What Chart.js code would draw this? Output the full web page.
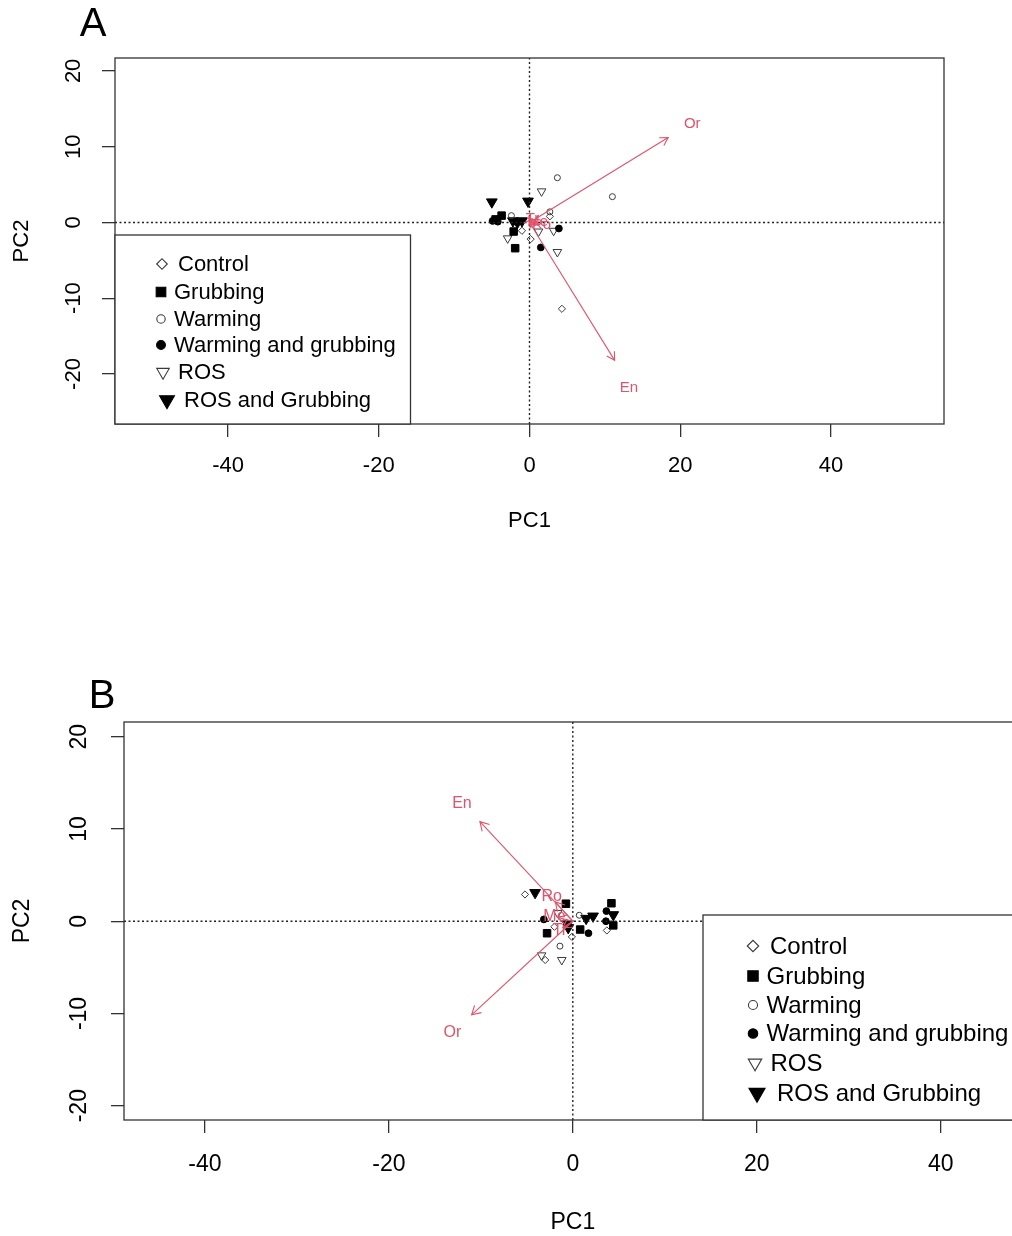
<!DOCTYPE html>
<html>
<head>
<meta charset="utf-8">
<script src="https://cdn.jsdelivr.net/npm/chart.js@4.4.1/dist/chart.umd.min.js"></script>
<style>
  body { margin: 0; background: #fff; width: 1012px; height: 1236px; overflow: hidden; position: relative; }
  .panel { position: absolute; left: 0; overflow: hidden; }
  canvas { display: block; }
</style>
</head>
<body>
<div class="panel" style="top:0;width:1012px;height:560px"><canvas id="chartA" width="1012" height="560"></canvas></div>
<div class="panel" style="top:640px;width:1012px;height:596px"><canvas id="chartB" width="1040" height="596"></canvas></div>
<script>
const groups = ["Control", "Grubbing", "Warming", "Warming and grubbing", "ROS", "ROS and Grubbing"];
const xTicks = [-40, -20, 0, 20, 40];
const yTicks = [-20, -10, 0, 10, 20];

// panel A: sample scores [PC1, PC2]
const controlA = [[-1.0, -1.1], [0.15, -2.2], [2.7, 0.8], [4.3, -11.4]];
const grubbingA = [[-4.5, 0.4], [-3.7, 0.9], [-2.1, -1.2], [-1.9, -3.4]];
const warmingA = [[3.7, 5.9], [11.0, 3.4], [2.7, 1.4], [-2.4, 0.9]];
const warmGrubA = [[-4.9, 0.2], [-4.2, 0.1], [3.9, -0.8], [1.5, -3.3]];
const rosA = [[1.6, 4.1], [3.2, -1.1], [3.7, -3.9], [-2.9, -2.1], [1.2, -1.2]];
const rosGrubA = [[-5.0, 2.7], [-0.2, 2.8], [-2.2, 0.2], [-1.6, 0.0], [-1.0, 0.2]];

// panel A: variable loadings (arrow tips and label spots)
const loadNamesA = ["Or", "En", "Ro", "Me", "Tr"];
const loadEndA = [[18.4, 11.2], [11.3, -18.2], [1.2, -0.2], [0.9, 0.1], [0.3, 0.4]];
const loadLabelA = [[21.6, 13.0], [13.2, -21.8], [1.6, -0.3], [1.1, 0.1], [0.4, 0.5]];

// panel B: sample scores [PC1, PC2]
const controlB = [[-5.2, 2.9], [-2.0, -0.6], [-0.1, -1.7], [3.7, -1.0], [-3.0, -4.2]];
const grubbingB = [[-0.75, 1.9], [-2.8, -1.3], [0.8, -0.9], [4.2, 1.95], [4.4, -0.45]];
const warmingB = [[0.7, 0.65], [-1.4, -2.7]];
const warmGrubB = [[-3.15, 0.2], [1.7, -1.3], [3.65, 1.1], [3.6, 0.0]];
const rosB = [[-1.65, 0.9], [-3.4, -3.7], [-1.2, -4.2]];
const rosGrubB = [[-4.1, 3.1], [-0.6, -0.3], [-0.5, -0.7], [1.45, 0.3], [2.2, 0.55], [4.4, 0.7]];

// panel B: variable loadings
const loadNamesB = ["En", "Or", "Ro", "Me", "Tr"];
const loadEndB = [[-10.1, 10.8], [-11.0, -10.15], [-1.9, 2.1], [-1.6, 0.4], [-1.1, -0.7]];
const loadLabelB = [[-12.05, 12.75], [-13.1, -12.1], [-2.3, 2.65], [-2.0, 0.5], [-1.4, -1.0]];

const pink = "#DF536B";
const fontFamily = "'Liberation Sans', Arial, sans-serif";

// pch-like symbols for the six treatment groups
const symbolStyles = [
  { style: "rectRot", radius: 3.6, filled: false, legendRadius: 5.3 },
  { style: "rect", radius: 5.3, filled: true, legendRadius: 6.8 },
  { style: "circle", radius: 3.0, filled: false, legendRadius: 4.2 },
  { style: "circle", radius: 3.4, filled: true, legendRadius: 4.4 },
  { style: "triangle", rotation: 180, radius: 5.0, filled: false, legendRadius: 7.2 },
  { style: "triangle", rotation: 180, radius: 6.2, filled: true, legendRadius: 8.6 }
];

const layoutA = {
  letter: "A", letterX: 93, letterY: 25, letterFont: 40,
  xMin: -55, xMax: 55, yMin: -26.6, yMax: 21.7,
  padTop: 58, padRight: 68, yWidth: 115, xHeight: 136,
  axisFont: 22, xLabelY: 466, xTitleY: 521, yLabelX: 74, yTitleX: 22,
  labelFont: 15, headLen: 9,
  legendFont: 22, legendScale: 1,
  legendLeft: 115, legendTop: 235, legendRight: 410.5,
  legendSymX: [162, 161, 161, 161, 163, 167],
  legendTextX: [178, 174, 174, 174, 178, 184],
  legendRowY: [264, 292, 319, 345, 372, 400]
};

const layoutB = {
  letter: "B", letterX: 102, letterY: 57, letterFont: 40,
  xMin: -48.8, xMax: 48.95, yMin: -21.55, yMax: 21.6,
  padTop: 82, padRight: 17, yWidth: 124, xHeight: 116,
  axisFont: 23, xLabelY: 525, xTitleY: 583, yLabelX: 80, yTitleX: 23,
  labelFont: 16, headLen: 10,
  legendFont: 24, legendScale: 1.08,
  legendLeft: 703, legendTop: 275, legendRight: null,
  legendSymX: [753, 753, 753, 753, 755, 757],
  legendTextX: [770, 766.5, 766.5, 766.5, 770.5, 777],
  legendRowY: [306, 336, 365, 393.5, 423, 453]
};

function toXY(arr) {
  return arr.map(p => ({ x: p[0], y: p[1] }));
}

function buildDatasets(groupPoints, loadEnd, lay) {
  const ds = [];
  groupPoints.forEach((pts, i) => {
    const s = symbolStyles[i];
    ds.push({
      label: groups[i],
      data: toXY(pts),
      showLine: false,
      pointStyle: s.style,
      pointRotation: s.rotation || 0,
      pointRadius: s.radius,
      pointBorderWidth: 1,
      pointBackgroundColor: s.filled ? "#000" : "rgba(0,0,0,0)",
      pointBorderColor: s.filled ? "#000" : "#3a3a3a",
      order: 3
    });
  });
  // dotted zero lines
  ds.push({
    data: [{ x: lay.xMin, y: 0 }, { x: lay.xMax, y: 0 }],
    showLine: true, borderColor: "#222", borderWidth: 1.4, borderDash: [2, 2.5],
    pointRadius: 0, order: 2
  });
  ds.push({
    data: [{ x: 0, y: lay.yMin }, { x: 0, y: lay.yMax }],
    showLine: true, borderColor: "#222", borderWidth: 1.4, borderDash: [2, 2.5],
    pointRadius: 0, order: 2
  });
  // loading arrows
  loadEnd.forEach(p => {
    ds.push({
      data: [{ x: 0, y: 0 }, { x: p[0], y: p[1] }],
      showLine: true, borderColor: pink, borderWidth: 1.1,
      pointRadius: 0, order: 1, isArrow: true
    });
  });
  return ds;
}

const biplotPlugin = {
  id: "biplot",
  afterDraw(chart, args, opts) {
    const ctx = chart.ctx;
    const lay = opts.layout;
    const area = chart.chartArea;
    const xs = chart.scales.x;
    const ys = chart.scales.y;
    ctx.save();

    // arrow heads on loading vectors
    ctx.strokeStyle = pink;
    ctx.lineWidth = 1.1;
    chart.data.datasets.forEach((d, i) => {
      if (!d.isArrow) return;
      const pts = chart.getDatasetMeta(i).data;
      const x0 = pts[0].x, y0 = pts[0].y, x1 = pts[1].x, y1 = pts[1].y;
      const a = Math.atan2(y1 - y0, x1 - x0);
      ctx.beginPath();
      ctx.moveTo(x1 - lay.headLen * Math.cos(a - Math.PI / 6), y1 - lay.headLen * Math.sin(a - Math.PI / 6));
      ctx.lineTo(x1, y1);
      ctx.lineTo(x1 - lay.headLen * Math.cos(a + Math.PI / 6), y1 - lay.headLen * Math.sin(a + Math.PI / 6));
      ctx.stroke();
    });

    // loading labels
    ctx.fillStyle = pink;
    ctx.font = lay.labelFont + "px " + fontFamily;
    ctx.textAlign = "center";
    ctx.textBaseline = "middle";
    opts.labels.forEach((name, i) => {
      const p = opts.labelPos[i];
      ctx.fillText(name, xs.getPixelForValue(p[0]), ys.getPixelForValue(p[1]));
    });

    // plot frame
    ctx.strokeStyle = "#333";
    ctx.lineWidth = 1.3;
    ctx.strokeRect(area.left, area.top, area.right - area.left, area.bottom - area.top);

    // tick labels and axis titles
    ctx.fillStyle = "#000";
    ctx.font = lay.axisFont + "px " + fontFamily;
    xTicks.forEach(v => ctx.fillText(String(v), xs.getPixelForValue(v), lay.xLabelY));
    yTicks.forEach(v => {
      ctx.save();
      ctx.translate(lay.yLabelX, ys.getPixelForValue(v));
      ctx.rotate(-Math.PI / 2);
      ctx.fillText(String(v), 0, 0);
      ctx.restore();
    });
    ctx.fillText("PC1", (area.left + area.right) / 2 > chart.width ? 0 : xs.getPixelForValue(0), lay.xTitleY);
    ctx.save();
    ctx.translate(lay.yTitleX, (area.top + area.bottom) / 2);
    ctx.rotate(-Math.PI / 2);
    ctx.fillText("PC2", 0, 0);
    ctx.restore();

    // panel letter
    ctx.font = lay.letterFont + "px " + fontFamily;
    ctx.fillText(lay.letter, lay.letterX, lay.letterY);

    // legend box
    const lr = lay.legendRight === null ? area.right : lay.legendRight;
    ctx.fillStyle = "#fff";
    ctx.fillRect(lay.legendLeft, lay.legendTop, lr - lay.legendLeft, area.bottom - lay.legendTop);
    ctx.strokeStyle = "#333";
    ctx.lineWidth = 1.3;
    ctx.strokeRect(lay.legendLeft, lay.legendTop, lr - lay.legendLeft, area.bottom - lay.legendTop);

    ctx.font = lay.legendFont + "px " + fontFamily;
    ctx.textAlign = "left";
    groups.forEach((g, i) => {
      const s = symbolStyles[i];
      ctx.fillStyle = s.filled ? "#000" : "rgba(0,0,0,0)";
      ctx.strokeStyle = s.filled ? "#000" : "#3a3a3a";
      ctx.lineWidth = 1.1;
      Chart.helpers.drawPoint(ctx, {
        pointStyle: s.style,
        rotation: s.rotation || 0,
        radius: s.legendRadius * lay.legendScale,
        borderWidth: 1
      }, lay.legendSymX[i], lay.legendRowY[i]);
      ctx.fillStyle = "#000";
      ctx.fillText(g, lay.legendTextX[i], lay.legendRowY[i] + 1);
    });
    ctx.restore();
  }
};

function makeBiplot(canvasId, groupPoints, loadNames, loadEnd, loadLabel, lay) {
  const axisGrid = { drawOnChartArea: false, drawTicks: true, tickLength: 13, color: "#333", lineWidth: 1.3 };
  return new Chart(document.getElementById(canvasId), {
    type: "scatter",
    data: { datasets: buildDatasets(groupPoints, loadEnd, lay) },
    options: {
      responsive: false,
      animation: false,
      events: [],
      layout: { padding: { top: lay.padTop, right: lay.padRight, left: 0, bottom: 0 } },
      plugins: {
        legend: { display: false },
        tooltip: { enabled: false },
        biplot: { layout: lay, labels: loadNames, labelPos: loadLabel }
      },
      scales: {
        x: {
          type: "linear", min: lay.xMin, max: lay.xMax,
          afterBuildTicks: s => { s.ticks = xTicks.map(v => ({ value: v })); },
          afterFit: s => { s.height = lay.xHeight; },
          grid: axisGrid,
          border: { display: false },
          ticks: { color: "rgba(0,0,0,0)", maxRotation: 0 }
        },
        y: {
          type: "linear", min: lay.yMin, max: lay.yMax,
          afterBuildTicks: s => { s.ticks = yTicks.map(v => ({ value: v })); },
          afterFit: s => { s.width = lay.yWidth; },
          grid: axisGrid,
          border: { display: false },
          ticks: { color: "rgba(0,0,0,0)" }
        }
      }
    },
    plugins: [biplotPlugin]
  });
}

makeBiplot("chartA", [controlA, grubbingA, warmingA, warmGrubA, rosA, rosGrubA],
  loadNamesA, loadEndA, loadLabelA, layoutA);
makeBiplot("chartB", [controlB, grubbingB, warmingB, warmGrubB, rosB, rosGrubB],
  loadNamesB, loadEndB, loadLabelB, layoutB);
</script>
</body>
</html>
